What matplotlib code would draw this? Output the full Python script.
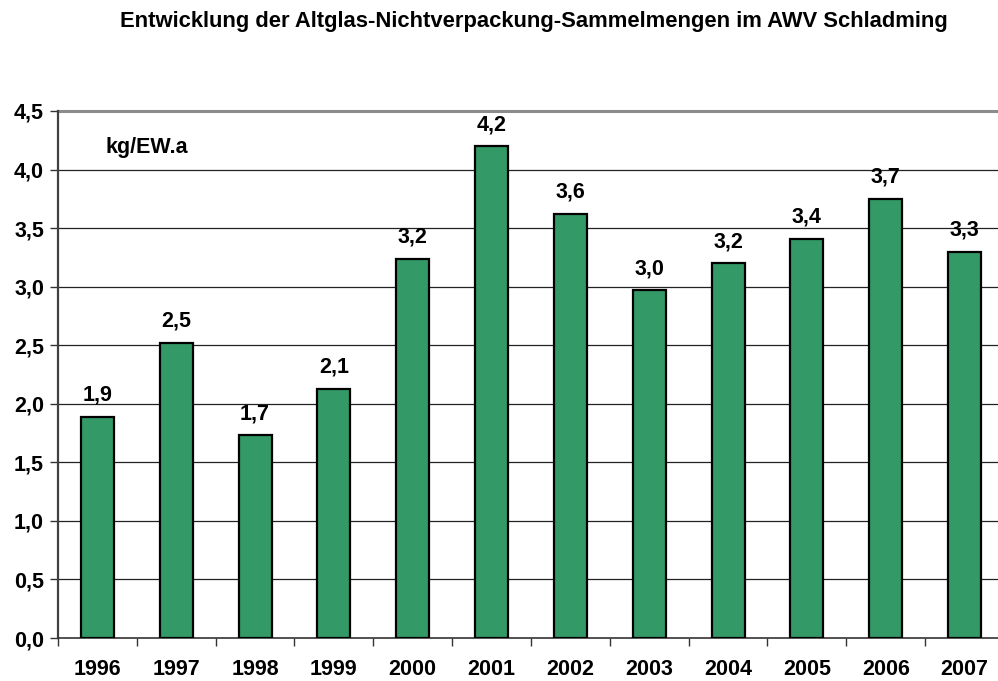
import matplotlib
matplotlib.use("Agg")
import matplotlib.pyplot as plt
import numpy as np

years = ["1996", "1997", "1998", "1999", "2000", "2001", "2002", "2003", "2004", "2005", "2006", "2007"]
values = [1.89, 2.52, 1.73, 2.13, 3.24, 4.20, 3.62, 2.97, 3.20, 3.41, 3.75, 3.30]
labels = ["1,9", "2,5", "1,7", "2,1", "3,2", "4,2", "3,6", "3,0", "3,2", "3,4", "3,7", "3,3"]
yticks = [0.0, 0.5, 1.0, 1.5, 2.0, 2.5, 3.0, 3.5, 4.0, 4.5]
ytick_labels = ["0,0", "0,5", "1,0", "1,5", "2,0", "2,5", "3,0", "3,5", "4,0", "4,5"]
title = "Entwicklung der Altglas-Nichtverpackung-Sammelmengen im AWV Schladming"
unit = "kg/EW.a"

plt.rcParams['font.family'] = ['Liberation Sans', 'DejaVu Sans']
plt.rcParams['font.weight'] = 'bold'

W, H = 998, 681
fig = plt.figure(figsize=(W / 100, H / 100), dpi=100)
left, right_px, top, bottom = 58, 1004, 111, 638
ax = fig.add_axes([left / W, (H - bottom) / H, (right_px - left) / W, (bottom - top) / H])

x = np.arange(len(years))
ax.bar(x, values, width=0.42, color="#339966", edgecolor="black", linewidth=1.6, zorder=3)

ax.set_xlim(-0.5, len(years) - 0.5)
ax.set_ylim(0, 4.5)

for yv in yticks[1:-1]:
    ax.axhline(yv, color="#222222", linewidth=0.9, zorder=1)
ax.axhline(4.5, color="#8c8c8c", linewidth=2.2, zorder=1, clip_on=False)

fs = 15.5
for xi, v, lab in zip(x, values, labels):
    ax.annotate(lab, (xi, v), xytext=(0, 8), textcoords="offset points",
                ha="center", va="bottom", fontsize=fs, fontweight="bold", color="black")

ax.set_yticks(yticks)
ax.set_yticklabels(ytick_labels, fontsize=fs, fontweight="bold")
ax.tick_params(axis="y", direction="out", length=6, width=1, color="#333333", pad=4)

ax.set_xticks(x)
ax.set_xticklabels(years, fontsize=fs, fontweight="bold")
ax.tick_params(axis="x", length=0, pad=15)
ax.set_xticks(np.arange(len(years) + 1) - 0.5, minor=True)
ax.tick_params(axis="x", which="minor", direction="out", length=6, width=1, color="#333333")

for s in ["top", "right"]:
    ax.spines[s].set_visible(False)
ax.spines["left"].set_color("#404040")
ax.spines["left"].set_linewidth(1.6)
ax.spines["bottom"].set_color("#333333")
ax.spines["bottom"].set_linewidth(1.2)

ax.text(0.05, 0.93, unit, transform=ax.transAxes, fontsize=fs, fontweight="bold", va="center", ha="left")

fig.text(534 / W, 1 - 22 / H, title, ha="center", va="center", fontsize=15.8, fontweight="bold")

fig.savefig("out.png", dpi=100)
